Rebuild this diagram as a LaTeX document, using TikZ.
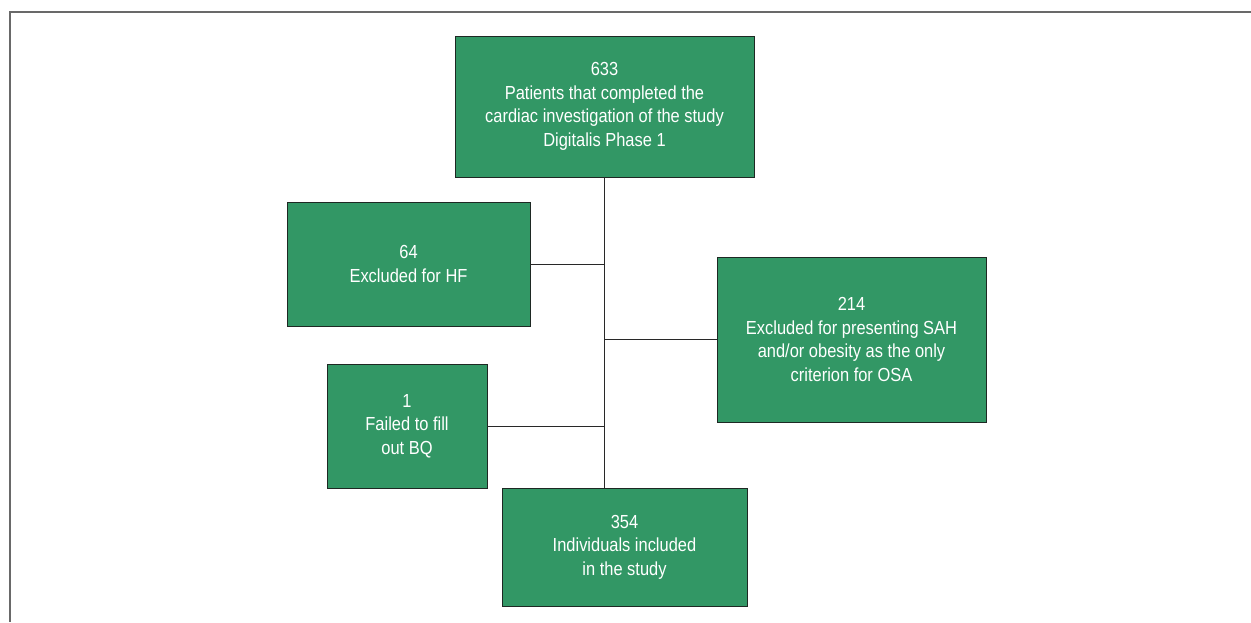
\documentclass[tikz,border=0pt]{standalone}
\usepackage{fontspec}
\newfontfamily\boxfont[FakeStretch=0.87]{Liberation Sans}
\definecolor{boxgreen}{RGB}{50,151,101}
\definecolor{boxedge}{RGB}{30,40,35}
\definecolor{framegray}{RGB}{105,105,105}
\definecolor{linegray}{RGB}{40,40,40}
\begin{document}
\begin{tikzpicture}[x=1pt,y=-1pt,
  box/.style={draw=boxedge, line width=0.9pt, fill=boxgreen, text=white,
    align=center, inner sep=0pt, font=\boxfont\fontsize{18.9}{23.5}\selectfont},
  conn/.style={draw=linegray, line width=1pt}]
\useasboundingbox (0,0) rectangle (1251,622);
\draw[framegray, line width=1.6pt] (1251,12) -- (10,12) -- (10,622);
\node[box, minimum width=299pt, minimum height=141pt] (top) at (604.5,106.5)
  {633\\Patients that completed the\\cardiac investigation of the study\\Digitalis Phase 1};
\node[box, minimum width=243pt, minimum height=124pt] (hf) at (408.5,264)
  {64\\Excluded for HF};
\node[box, minimum width=269pt, minimum height=165pt] (osa) at (851.5,339.5)
  {214\\Excluded for presenting SAH\\and/or obesity as the only\\criterion for OSA};
\node[box, minimum width=160pt, minimum height=124pt] (bq) at (407,426)
  {1\\Failed to fill\\out BQ};
\node[box, minimum width=245pt, minimum height=118pt] (inc) at (624.5,547)
  {354\\Individuals included\\in the study};
\draw[conn] (top.south) -- (top.south |- inc.north);
\draw[conn] (hf.east) -- (hf.east -| top.south);
\draw[conn] (osa.west) -- (osa.west -| top.south);
\draw[conn] (bq.east) -- (bq.east -| top.south);
\end{tikzpicture}
\end{document}
